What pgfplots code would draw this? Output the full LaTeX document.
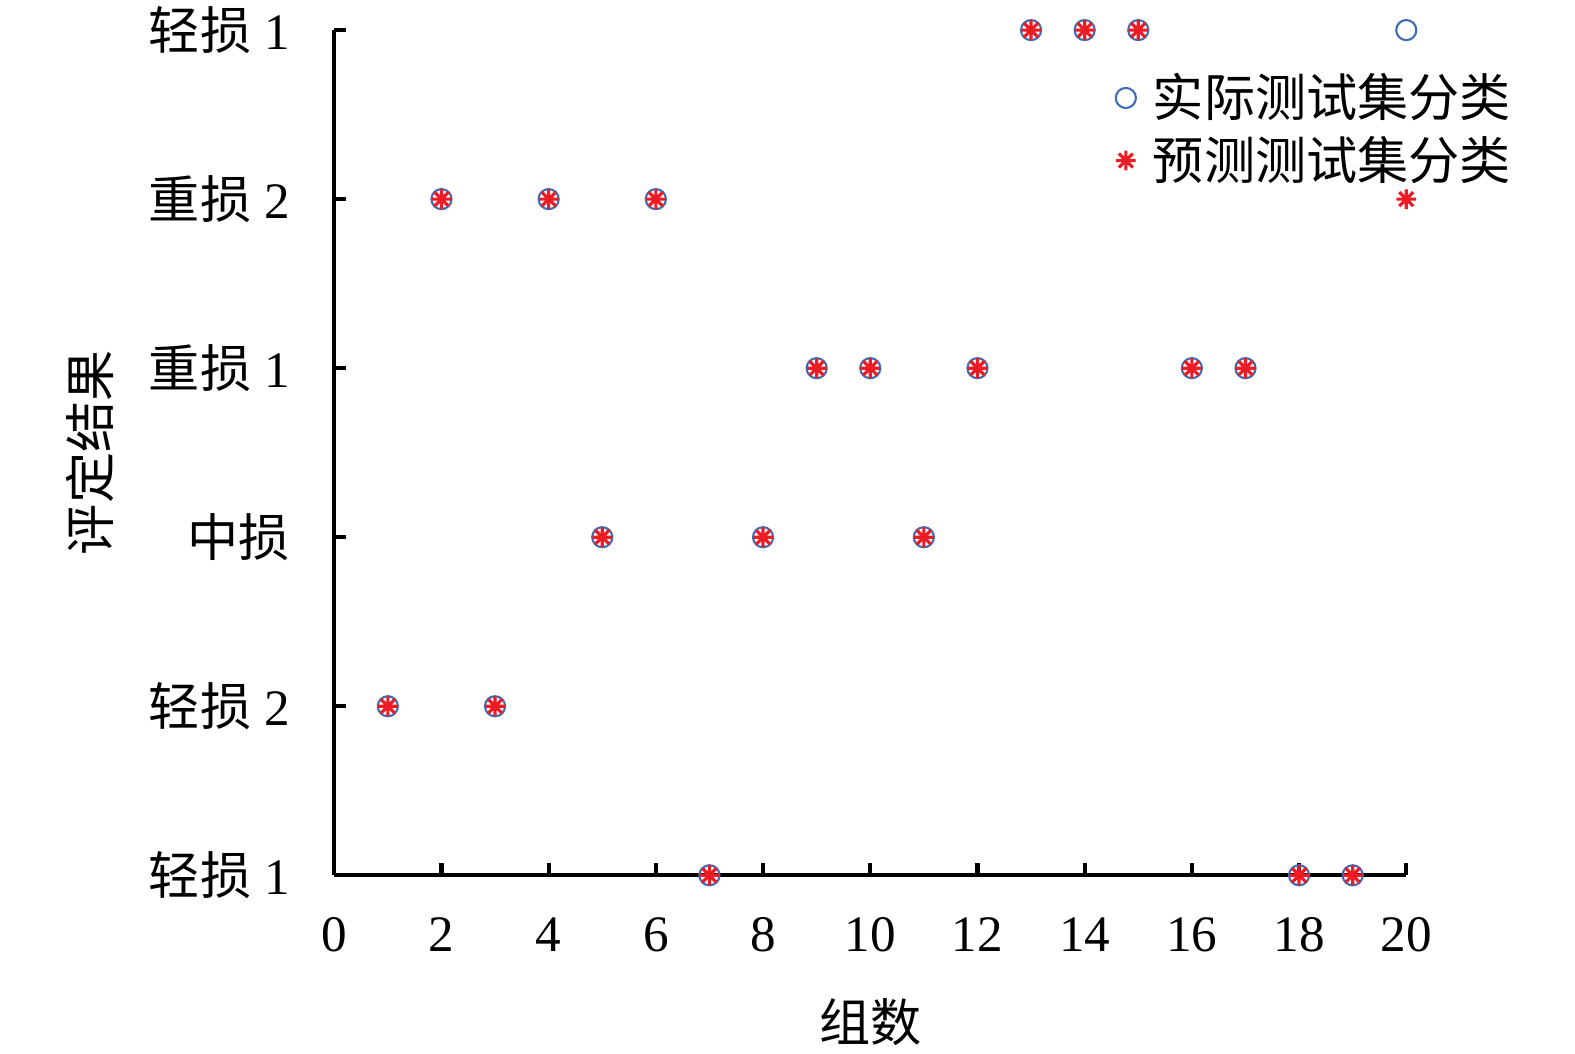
\documentclass[border=0pt]{standalone}
\usepackage{fontspec}
\setmainfont{Liberation Serif}
\newfontfamily\cjk{Noto Sans CJK SC}
\usepackage{pgfplots}
\pgfplotsset{compat=1.18}

\definecolor{actblue}{RGB}{63,108,178}
\definecolor{predred}{RGB}{237,28,36}

% MATLAB-style asterisk: eight arms
\pgfdeclareplotmark{star8}{%
  \pgfpathmoveto{\pgfqpoint{-\pgfplotmarksize}{0pt}}%
  \pgfpathlineto{\pgfqpoint{\pgfplotmarksize}{0pt}}%
  \pgfpathmoveto{\pgfqpoint{0pt}{-\pgfplotmarksize}}%
  \pgfpathlineto{\pgfqpoint{0pt}{\pgfplotmarksize}}%
  \pgfpathmoveto{\pgfqpoint{-0.7071\pgfplotmarksize}{-0.7071\pgfplotmarksize}}%
  \pgfpathlineto{\pgfqpoint{0.7071\pgfplotmarksize}{0.7071\pgfplotmarksize}}%
  \pgfpathmoveto{\pgfqpoint{-0.7071\pgfplotmarksize}{0.7071\pgfplotmarksize}}%
  \pgfpathlineto{\pgfqpoint{0.7071\pgfplotmarksize}{-0.7071\pgfplotmarksize}}%
  \pgfusepathqstroke}

\begin{document}
\begin{tikzpicture}
\useasboundingbox (-3.33cm,-1.771cm) rectangle (12.361cm,8.72cm);
\begin{axis}[
    at={(0,0)}, anchor=south west,
    scale only axis,
    width=10.68cm, height=8.42cm,
    xmin=0, xmax=20, ymin=1, ymax=6,
    axis x line*=bottom, axis y line*=left,
    axis line style={line width=1.2pt, black},
    xtick={0,2,...,20},
    ytick={1,2,3,4,5,6},
    yticklabels={{\cjk 轻损} 1,{\cjk 轻损} 2,{\cjk 中损},{\cjk 重损} 1,{\cjk 重损} 2,{\cjk 轻损} 1},
    tick align=inside,
    major tick length=0.12cm,
    tick style={line width=1.2pt, black},
    /pgf/number format/assume math mode=true,
    tick label style={font=\fontsize{14.5}{17}\selectfont},
    yticklabel style={xshift=-0.32cm},
    xticklabel style={yshift=-0.30cm},
    xlabel={\cjk 组数},
    ylabel={\cjk 评定结果},
    label style={font=\fontsize{14.5}{17}\selectfont},
    xlabel style={at={(axis description cs:0.5,-0.1734)}, anchor=center},
    ylabel style={at={(axis description cs:-0.2275,0.5)}, anchor=center},
    clip=false,
    legend style={draw=none, fill=none, at={(axis cs:14.37,5.83)}, anchor=north west,
        font=\fontsize{14.5}{17}\selectfont, row sep=0pt},
    legend cell align=left,
]
\addplot[only marks, mark=o, mark size=2.85pt, actblue, mark options={line width=0.6pt}]
coordinates {
    (1,2)(2,5)(3,2)(4,5)(5,3)(6,5)(7,1)(8,3)(9,4)(10,4)
    (11,3)(12,4)(13,6)(14,6)(15,6)(16,4)(17,4)(18,1)(19,1)(20,6)
};
\addlegendentry{\hspace*{0.1cm}\cjk 实际测试集分类}
\addplot[only marks, mark=star8, mark size=2.8pt, predred, mark options={line width=0.9pt}]
coordinates {
    (1,2)(2,5)(3,2)(4,5)(5,3)(6,5)(7,1)(8,3)(9,4)(10,4)
    (11,3)(12,4)(13,6)(14,6)(15,6)(16,4)(17,4)(18,1)(19,1)(20,5)
};
\addlegendentry{\hspace*{0.1cm}\cjk 预测测试集分类}
\end{axis}
\end{tikzpicture}
\end{document}
